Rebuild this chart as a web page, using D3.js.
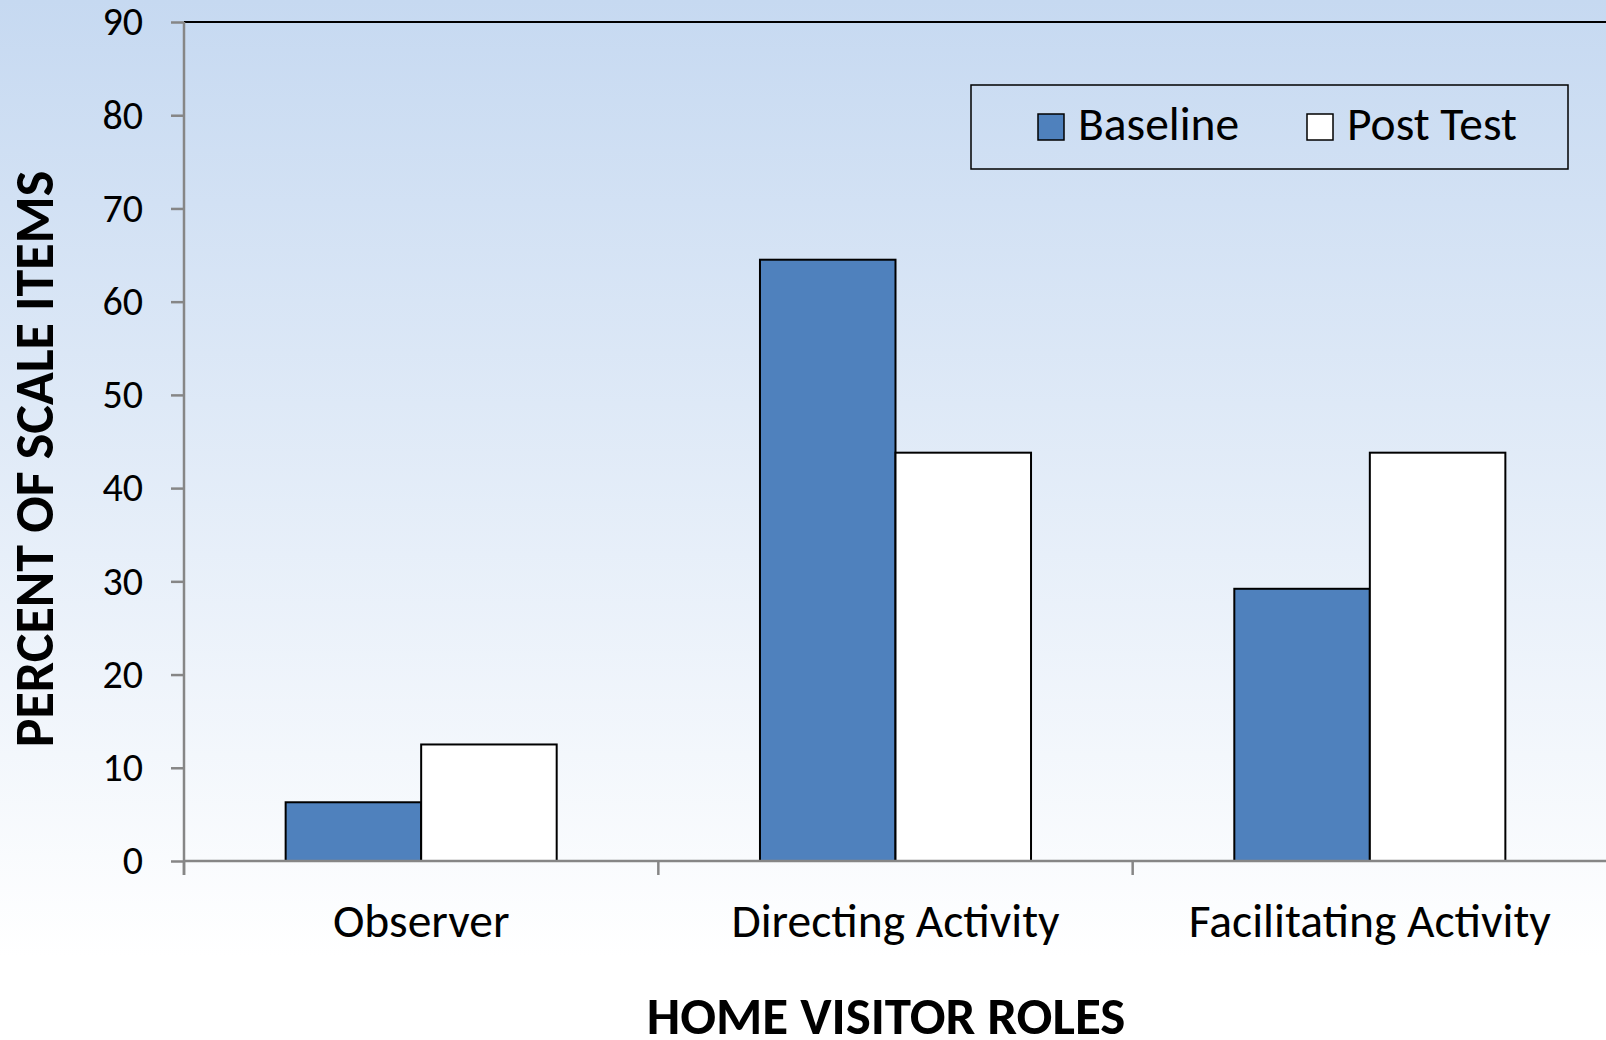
<!DOCTYPE html>
<html>
<head>
<meta charset="utf-8">
<script src="https://cdn.jsdelivr.net/npm/d3@7"></script>
<style>
  html, body { margin: 0; padding: 0; overflow: hidden; }
  svg { display: block; font-family: "Carlito", "Calibri", "Lato", sans-serif; }
</style>
</head>
<body>
<svg id="chart" width="1606" height="1040"></svg>
<script>
const categories = ["Observer", "Directing Activity", "Facilitating Activity"];
const seriesNames = ["Baseline", "Post Test"];
const baselineValues = [6.3, 64.5, 29.2];
const postTestValues = [12.5, 43.8, 43.8];
const yTicks = [0, 10, 20, 30, 40, 50, 60, 70, 80, 90];
const seriesColors = ["#4f81bd", "#ffffff"];
const xTitle = "HOME VISITOR ROLES";
const yTitle = "PERCENT OF SCALE ITEMS";

const W = 1606, H = 1040;
const svg = d3.select("#chart");

// background gradient
const defs = svg.append("defs");
const grad = defs.append("linearGradient").attr("id", "bg").attr("x1", 0).attr("y1", 0).attr("x2", 0).attr("y2", 1);
grad.append("stop").attr("offset", "0%").attr("stop-color", "#c6d9f1");
grad.append("stop").attr("offset", "92%").attr("stop-color", "#ffffff");
grad.append("stop").attr("offset", "100%").attr("stop-color", "#ffffff");
svg.append("rect").attr("width", W).attr("height", H).attr("fill", "url(#bg)");

const plot = { left: 184, right: 1607, top: 22, bottom: 861 };

const x0 = d3.scaleBand().domain(categories).range([plot.left, plot.right]).paddingInner(0).paddingOuter(0);
const x1 = d3.scaleBand().domain(seriesNames).range([0, x0.bandwidth()]).paddingInner(0).paddingOuter(0.75);
const y = d3.scaleLinear().domain([0, 90]).range([plot.bottom, plot.top]);
const color = d3.scaleOrdinal().domain(seriesNames).range(seriesColors);

const data = categories.map((c, i) => ({ cat: c, vals: [
  { s: seriesNames[0], v: baselineValues[i] },
  { s: seriesNames[1], v: postTestValues[i] }
]}));

// top border
svg.append("line").attr("x1", plot.left).attr("x2", W).attr("y1", plot.top).attr("y2", plot.top)
  .attr("stroke", "#000").attr("stroke-width", 2);

// bars
const groups = svg.append("g").selectAll("g").data(data).join("g")
  .attr("transform", d => `translate(${x0(d.cat)},0)`);
groups.selectAll("rect").data(d => d.vals).join("rect")
  .attr("x", d => x1(d.s))
  .attr("y", d => y(d.v))
  .attr("width", x1.bandwidth())
  .attr("height", d => y(0) - y(d.v))
  .attr("fill", d => color(d.s))
  .attr("stroke", "#000")
  .attr("stroke-width", 2);

// y axis
const yAxis = d3.axisLeft(y).tickValues(yTicks).tickSize(13).tickPadding(28).tickFormat(d3.format("d"));
const gy = svg.append("g").attr("transform", `translate(${plot.left},0)`).call(yAxis);
gy.select(".domain").remove();
gy.selectAll(".tick line").attr("stroke", "#868686").attr("stroke-width", 2.5);
gy.selectAll(".tick text").attr("font-size", 40).attr("fill", "#000").attr("font-family", "Carlito, Calibri, Lato, sans-serif");
svg.append("line").attr("x1", plot.left).attr("x2", plot.left).attr("y1", plot.top).attr("y2", plot.bottom + 14)
  .attr("stroke", "#868686").attr("stroke-width", 2.5);

// x axis
svg.append("line").attr("x1", plot.left).attr("x2", W).attr("y1", plot.bottom).attr("y2", plot.bottom)
  .attr("stroke", "#868686").attr("stroke-width", 2.5);
const xAxis = d3.axisBottom(x0).tickSize(0).tickPadding(0);
const gx = svg.append("g").attr("transform", `translate(0,${plot.bottom})`).call(xAxis);
gx.select(".domain").remove();
gx.selectAll(".tick text").attr("font-size", 47.5).attr("fill", "#000").attr("dy", null).attr("y", 76)
  .attr("font-family", "Carlito, Calibri, Lato, sans-serif");
// category boundary ticks
svg.append("g").selectAll("line").data(categories).join("line")
  .attr("x1", d => x0(d)).attr("x2", d => x0(d))
  .attr("y1", plot.bottom).attr("y2", plot.bottom + 14)
  .attr("stroke", "#868686").attr("stroke-width", 2.5);

// titles
svg.append("text").attr("x", 886).attr("y", 1034).attr("text-anchor", "middle")
  .attr("font-size", 53).attr("font-weight", "bold").text(xTitle);
svg.append("text").attr("transform", "translate(53,459) rotate(-90)").attr("text-anchor", "middle")
  .attr("font-size", 54).attr("font-weight", "bold").text(yTitle);

// legend
const leg = svg.append("g");
leg.append("rect").attr("x", 971).attr("y", 85).attr("width", 597).attr("height", 84)
  .attr("fill", "none").attr("stroke", "#000").attr("stroke-width", 1.5);
const legX = [1038, 1307];
const li = leg.selectAll("g").data(seriesNames).join("g")
  .attr("transform", (d, i) => `translate(${legX[i]},114)`);
li.append("rect").attr("width", 26).attr("height", 26).attr("fill", d => color(d))
  .attr("stroke", "#000").attr("stroke-width", 1.5);
li.append("text").attr("x", 40).attr("y", 26).attr("font-size", 47.5).text(d => d);
</script>
</body>
</html>
